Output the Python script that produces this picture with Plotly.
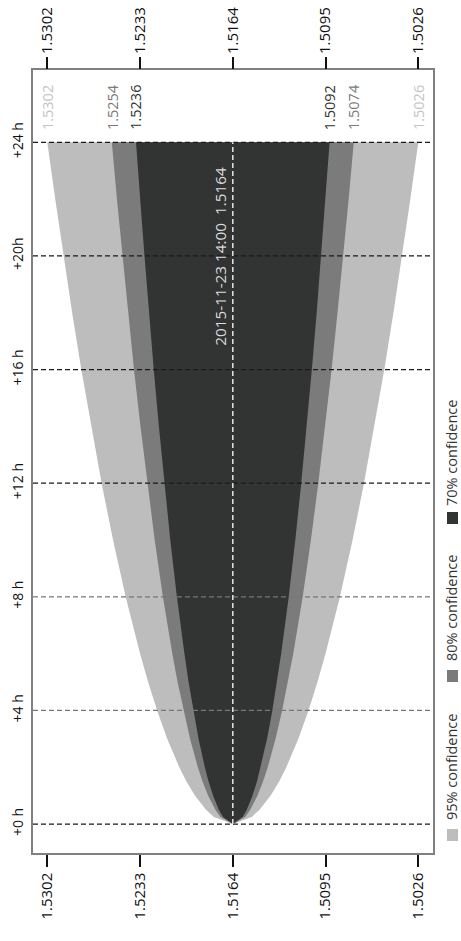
import plotly.graph_objects as go

# ---- data ----
hours = [0, 0.25, 0.5, 1, 1.5, 2, 3, 4, 5, 6, 8, 10, 12, 14, 16, 18, 20, 22, 24]
upper95 = [1.5164, 1.51781, 1.51839, 1.51922, 1.51985, 1.52038, 1.52128, 1.52203, 1.52270, 1.52330,
           1.52437, 1.52531, 1.52616, 1.52694, 1.52767, 1.52835, 1.52900, 1.52961, 1.5302]
lower95 = [1.5164, 1.51499, 1.51441, 1.51358, 1.51295, 1.51242, 1.51152, 1.51077, 1.51010, 1.50950,
           1.50843, 1.50749, 1.50664, 1.50586, 1.50513, 1.50445, 1.50380, 1.50319, 1.5026]
upper80 = [1.5164, 1.51732, 1.51770, 1.51824, 1.51865, 1.51900, 1.51958, 1.52007, 1.52051, 1.52090,
           1.52160, 1.52221, 1.52276, 1.52327, 1.52375, 1.52419, 1.52462, 1.52502, 1.5254]
lower80 = [1.5164, 1.51548, 1.51510, 1.51456, 1.51415, 1.51380, 1.51322, 1.51273, 1.51229, 1.51190,
           1.51120, 1.51059, 1.51004, 1.50953, 1.50905, 1.50861, 1.50818, 1.50778, 1.5074]
upper70 = [1.5164, 1.51713, 1.51744, 1.51787, 1.51820, 1.51848, 1.51895, 1.51934, 1.51969, 1.52000,
           1.52056, 1.52105, 1.52149, 1.52190, 1.52228, 1.52264, 1.52297, 1.52329, 1.5236]
lower70 = [1.5164, 1.51567, 1.51536, 1.51493, 1.51460, 1.51432, 1.51385, 1.51346, 1.51311, 1.51280,
           1.51224, 1.51175, 1.51131, 1.51090, 1.51052, 1.51016, 1.50983, 1.50951, 1.5092]

center_value = 1.5164
center_label = "2015-11-23 14:00\u00a0\u00a01.5164"
value_ticks = [1.5302, 1.5233, 1.5164, 1.5095, 1.5026]
value_ticktext = ["1.5302", "1.5233", "1.5164", "1.5095", "1.5026"]
hour_ticks = [0, 4, 8, 12, 16, 20, 24]
hour_ticktext = ["+0 h", "+4 h", "+8 h", "+12 h", "+16 h", "+20h", "+24 h"]
band_names = ["95% confidence", "80% confidence", "70% confidence"]
band_colors = ["#bdbdbd", "#7b7b7b", "#323333"]
edge_label_colors = ["#c4c4c4", "#7b7b7b", "#323333"]

FONT = "Open Sans, DejaVu Sans, sans-serif"
W, H = 461, 941
ML, MR, MT, MB = 33, 28, 70, 88

fig = go.Figure()
bands = [(upper95, lower95), (upper80, lower80), (upper70, lower70)]
for (up, lo), name, col in zip(bands, band_names, band_colors):
    fig.add_trace(go.Scatter(
        x=list(up) + list(lo[::-1]),
        y=list(hours) + list(hours[::-1]),
        fill="toself", fillcolor=col, mode="lines", line=dict(width=0, color=col),
        name=name, hoverinfo="skip", showlegend=False))

# invisible trace for top axis
fig.add_trace(go.Scatter(x=[value_ticks[0]], y=[0], xaxis="x2", mode="markers",
                         marker=dict(opacity=0), showlegend=False, hoverinfo="skip"))

# horizontal dashed grid lines
for h in hour_ticks:
    col = "#777777" if h in (4, 8) else "#1a1a1a"
    fig.add_shape(type="line", xref="paper", yref="y", x0=0, x1=1, y0=h, y1=h,
                  line=dict(color=col, width=1.2, dash="5px,3px"), layer="above")

# center vertical dashed line
fig.add_shape(type="line", xref="x", yref="y", x0=center_value, x1=center_value,
              y0=hours[0], y1=hours[-1],
              line=dict(color="#e6e6e6", width=1.5, dash="5px,3px"), layer="above")

annotations = []
# edge labels at +24 h
for (up, lo), col in zip(bands, edge_label_colors):
    for v in (up[-1], lo[-1]):
        annotations.append(dict(x=v, y=hours[-1], xref="x", yref="y", text=f"{v:.4f}",
                                textangle=-90, showarrow=False, xanchor="center", yanchor="bottom",
                                yshift=10, font=dict(family=FONT, size=14.5, color=col)))
# center label
annotations.append(dict(x=center_value, y=20, xref="x", yref="y", text=center_label,
                        textangle=-90, showarrow=False, xanchor="center", yanchor="middle",
                        xshift=-13, font=dict(family=FONT, size=15.3, color="#dcdcdc")))

# rotated legend
pw, ph = W - ML - MR, H - MT - MB
def px_x(x):
    return (x - ML) / pw
def px_y(y):
    return (H - MB - y) / ph

legend_bottoms = [822, 663, 508]  # bottom of text (px)
square_centers = [835, 676, 518]
for name, col, tb, sc in zip(band_names, band_colors, legend_bottoms, square_centers):
    annotations.append(dict(x=px_x(451), y=px_y(tb), xref="paper", yref="paper", text=name,
                            textangle=-90, showarrow=False, xanchor="center", yanchor="bottom",
                            font=dict(family=FONT, size=14.5, color="#333333")))
    fig.add_shape(type="rect", xref="paper", yref="paper",
                  x0=px_x(447), x1=px_x(458), y0=px_y(sc + 6), y1=px_y(sc - 6),
                  fillcolor=col, line=dict(width=0))

axis_common = dict(tickvals=value_ticks, ticktext=value_ticktext, tickangle=-90,
                   ticks="outside", ticklen=12, tickwidth=1.5, tickcolor="#111111",
                   tickfont=dict(family=FONT, size=15, color="#111111"),
                   showgrid=False, zeroline=False, automargin=False)

fig.update_layout(
    width=W, height=H,
    margin=dict(l=ML, r=MR, t=MT, b=MB, autoexpand=False),
    paper_bgcolor="white", plot_bgcolor="white",
    showlegend=False,
    xaxis=dict(range=[1.531264, 1.501506], side="bottom", showline=True, linecolor="#808080",
               linewidth=1.5, mirror=True, **axis_common),
    xaxis2=dict(range=[1.531264, 1.501506], side="top", overlaying="x", matches="x",
                showline=False, **axis_common),
    yaxis=dict(range=[-1.02, 26.545], tickvals=hour_ticks, ticktext=hour_ticktext, tickangle=-90,
               ticks="", tickfont=dict(family=FONT, size=14, color="#111111"),
               showgrid=False, zeroline=False, showline=True, linecolor="#808080",
               linewidth=1.5, mirror=True, ticklabelstandoff=3, automargin=False),
    annotations=annotations,
)

fig.write_html("out.html", config={"displayModeBar": False},
               post_script="document.body.style.margin='0';document.body.style.overflow='hidden';")
